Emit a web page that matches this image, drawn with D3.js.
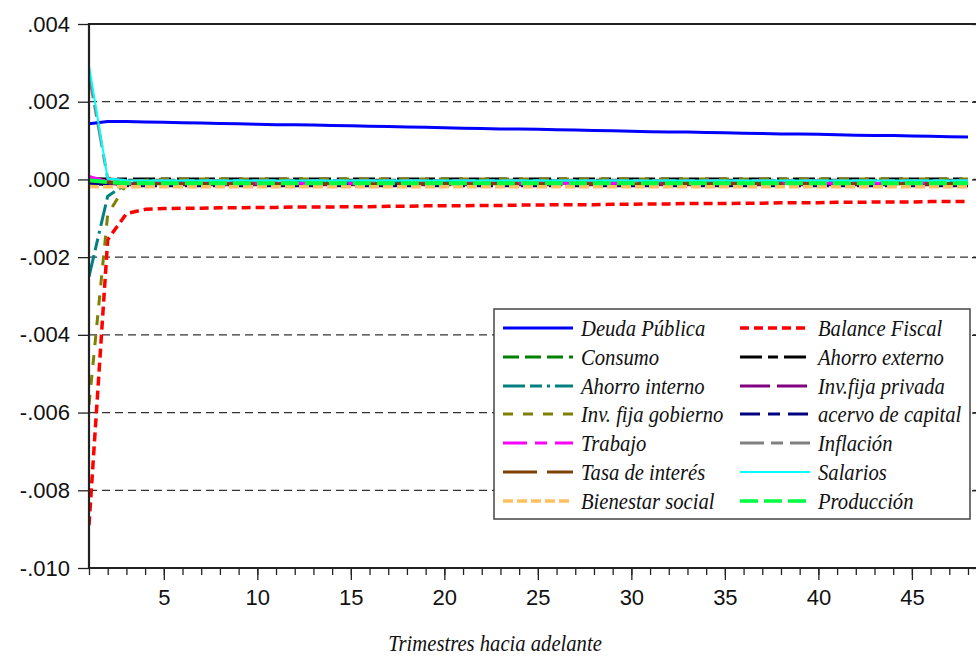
<!DOCTYPE html>
<html>
<head>
<meta charset="utf-8">
<script src="https://cdn.jsdelivr.net/npm/d3@7"></script>
<style>
  html, body { margin: 0; padding: 0; background: #fff; }
  svg { display: block; }
</style>
</head>
<body>
<svg id="chart" width="976" height="658"></svg>
<script>
// Quarters ahead
const periods = d3.range(1, 49);

// Impulse responses (deviations from steady state)
const deudaPublica = [0.00143,0.00149,0.00149,0.00148,0.00147,0.00146,0.00145,0.00144,0.00143,0.00142,0.00141,0.00141,0.00140,0.00139,0.00138,0.00137,0.00136,0.00135,0.00134,0.00133,0.00132,0.00131,0.00130,0.00130,0.00129,0.00128,0.00127,0.00126,0.00125,0.00124,0.00123,0.00122,0.00122,0.00121,0.00120,0.00119,0.00118,0.00117,0.00117,0.00116,0.00115,0.00114,0.00113,0.00113,0.00112,0.00111,0.00110,0.00109];
const balanceFiscal = [-0.00890,-0.00155,-0.00088,-0.00077,-0.00075,-0.00074,-0.00074,-0.00073,-0.00073,-0.00072,-0.00072,-0.00071,-0.00071,-0.00071,-0.00070,-0.00070,-0.00069,-0.00069,-0.00068,-0.00068,-0.00068,-0.00067,-0.00067,-0.00066,-0.00066,-0.00065,-0.00065,-0.00065,-0.00064,-0.00064,-0.00063,-0.00063,-0.00062,-0.00062,-0.00062,-0.00061,-0.00061,-0.00060,-0.00060,-0.00060,-0.00059,-0.00059,-0.00058,-0.00058,-0.00058,-0.00057,-0.00057,-0.00057];
const consumo = [-0.00003,-0.00008,-0.00010,-0.00010,-0.00010,-0.00010,-0.00010,-0.00010,-0.00010,-0.00010,-0.00010,-0.00010,-0.00010,-0.00010,-0.00010,-0.00010,-0.00010,-0.00010,-0.00010,-0.00010,-0.00010,-0.00010,-0.00010,-0.00010,-0.00010,-0.00010,-0.00010,-0.00010,-0.00010,-0.00010,-0.00010,-0.00010,-0.00010,-0.00010,-0.00010,-0.00010,-0.00010,-0.00010,-0.00010,-0.00010,-0.00010,-0.00010,-0.00010,-0.00010,-0.00010,-0.00010,-0.00010,-0.00010];
const ahorroExterno = [0.00002,0.00001,0.00001,0.00001,0.00001,0.00001,0.00001,0.00001,0.00001,0.00001,0.00001,0.00001,0.00001,0.00001,0.00001,0.00001,0.00001,0.00001,0.00001,0.00001,0.00001,0.00001,0.00001,0.00001,0.00001,0.00001,0.00001,0.00001,0.00001,0.00001,0.00001,0.00001,0.00001,0.00001,0.00001,0.00001,0.00001,0.00001,0.00001,0.00001,0.00001,0.00001,0.00001,0.00001,0.00001,0.00001,0.00001,0.00001];
const ahorroInterno = [-0.00250,-0.00043,-0.00012,-0.00008,-0.00008,-0.00008,-0.00008,-0.00008,-0.00008,-0.00008,-0.00008,-0.00008,-0.00008,-0.00008,-0.00008,-0.00008,-0.00008,-0.00008,-0.00008,-0.00008,-0.00008,-0.00008,-0.00008,-0.00008,-0.00008,-0.00008,-0.00008,-0.00008,-0.00008,-0.00008,-0.00008,-0.00008,-0.00008,-0.00008,-0.00008,-0.00008,-0.00008,-0.00008,-0.00008,-0.00008,-0.00008,-0.00008,-0.00008,-0.00008,-0.00008,-0.00008,-0.00008,-0.00008];
const invFijaPrivada = [0.00003,-0.00010,-0.00014,-0.00014,-0.00014,-0.00014,-0.00014,-0.00014,-0.00014,-0.00014,-0.00014,-0.00014,-0.00014,-0.00014,-0.00014,-0.00014,-0.00014,-0.00014,-0.00014,-0.00014,-0.00014,-0.00014,-0.00014,-0.00014,-0.00014,-0.00014,-0.00014,-0.00014,-0.00014,-0.00014,-0.00014,-0.00014,-0.00014,-0.00014,-0.00014,-0.00014,-0.00014,-0.00014,-0.00014,-0.00014,-0.00014,-0.00014,-0.00014,-0.00014,-0.00014,-0.00014,-0.00014,-0.00014];
const invFijaGobierno = [-0.00580,-0.00090,-0.00012,-0.00002,0.00001,0.00001,0.00001,0.00001,0.00001,0.00001,0.00001,0.00001,0.00001,0.00001,0.00001,0.00001,0.00001,0.00001,0.00001,0.00001,0.00001,0.00001,0.00001,0.00001,0.00001,0.00001,0.00001,0.00001,0.00001,0.00001,0.00001,0.00001,0.00001,0.00001,0.00001,0.00001,0.00001,0.00001,0.00001,0.00001,0.00001,0.00001,0.00001,0.00001,0.00001,0.00001,0.00001,0.00001];
const acervoCapital = [-0.00010,-0.00014,-0.00016,-0.00016,-0.00016,-0.00016,-0.00016,-0.00016,-0.00016,-0.00016,-0.00016,-0.00016,-0.00016,-0.00016,-0.00016,-0.00016,-0.00016,-0.00016,-0.00016,-0.00016,-0.00016,-0.00016,-0.00016,-0.00016,-0.00016,-0.00016,-0.00016,-0.00016,-0.00016,-0.00016,-0.00016,-0.00016,-0.00016,-0.00016,-0.00016,-0.00016,-0.00016,-0.00016,-0.00016,-0.00016,-0.00016,-0.00016,-0.00016,-0.00016,-0.00016,-0.00016,-0.00016,-0.00016];
const trabajo = [0.00008,-0.00006,-0.00010,-0.00010,-0.00010,-0.00010,-0.00010,-0.00010,-0.00010,-0.00010,-0.00010,-0.00010,-0.00010,-0.00010,-0.00010,-0.00010,-0.00010,-0.00010,-0.00010,-0.00010,-0.00010,-0.00010,-0.00010,-0.00010,-0.00010,-0.00010,-0.00010,-0.00010,-0.00010,-0.00010,-0.00010,-0.00010,-0.00010,-0.00010,-0.00010,-0.00010,-0.00010,-0.00010,-0.00010,-0.00010,-0.00010,-0.00010,-0.00010,-0.00010,-0.00010,-0.00010,-0.00010,-0.00010];
const inflacion = [0.00270,0.00002,-0.00003,-0.00003,-0.00003,-0.00003,-0.00003,-0.00003,-0.00003,-0.00003,-0.00003,-0.00003,-0.00003,-0.00003,-0.00003,-0.00003,-0.00003,-0.00003,-0.00003,-0.00003,-0.00003,-0.00003,-0.00003,-0.00003,-0.00003,-0.00003,-0.00003,-0.00003,-0.00003,-0.00003,-0.00003,-0.00003,-0.00003,-0.00003,-0.00003,-0.00003,-0.00003,-0.00003,-0.00003,-0.00003,-0.00003,-0.00003,-0.00003,-0.00003,-0.00003,-0.00003,-0.00003,-0.00003];
const tasaInteres = [-0.00004,-0.00007,-0.00011,-0.00011,-0.00011,-0.00011,-0.00011,-0.00011,-0.00011,-0.00011,-0.00011,-0.00011,-0.00011,-0.00011,-0.00011,-0.00011,-0.00011,-0.00011,-0.00011,-0.00011,-0.00011,-0.00011,-0.00011,-0.00011,-0.00011,-0.00011,-0.00011,-0.00011,-0.00011,-0.00011,-0.00011,-0.00011,-0.00011,-0.00011,-0.00011,-0.00011,-0.00011,-0.00011,-0.00011,-0.00011,-0.00011,-0.00011,-0.00011,-0.00011,-0.00011,-0.00011,-0.00011,-0.00011];
const salarios = [0.00293,0.00002,-0.00002,-0.00003,-0.00003,-0.00003,-0.00003,-0.00003,-0.00003,-0.00003,-0.00003,-0.00003,-0.00003,-0.00003,-0.00003,-0.00003,-0.00003,-0.00003,-0.00003,-0.00003,-0.00003,-0.00003,-0.00003,-0.00003,-0.00003,-0.00003,-0.00003,-0.00003,-0.00003,-0.00003,-0.00003,-0.00003,-0.00003,-0.00003,-0.00003,-0.00003,-0.00003,-0.00003,-0.00003,-0.00003,-0.00003,-0.00003,-0.00003,-0.00003,-0.00003,-0.00003,-0.00003,-0.00003];
const bienestarSocial = [-0.00018,-0.00019,-0.00019,-0.00019,-0.00019,-0.00019,-0.00019,-0.00019,-0.00019,-0.00019,-0.00019,-0.00019,-0.00019,-0.00019,-0.00019,-0.00019,-0.00019,-0.00019,-0.00019,-0.00019,-0.00019,-0.00019,-0.00019,-0.00019,-0.00019,-0.00019,-0.00019,-0.00019,-0.00019,-0.00019,-0.00019,-0.00019,-0.00019,-0.00019,-0.00019,-0.00019,-0.00019,-0.00019,-0.00019,-0.00019,-0.00019,-0.00019,-0.00019,-0.00019,-0.00019,-0.00019,-0.00019,-0.00019];
const produccion = [-0.00002,-0.00007,-0.00010,-0.00010,-0.00010,-0.00010,-0.00010,-0.00010,-0.00010,-0.00010,-0.00010,-0.00010,-0.00010,-0.00010,-0.00010,-0.00010,-0.00010,-0.00010,-0.00010,-0.00010,-0.00010,-0.00010,-0.00010,-0.00010,-0.00010,-0.00010,-0.00010,-0.00010,-0.00010,-0.00010,-0.00010,-0.00010,-0.00010,-0.00010,-0.00010,-0.00010,-0.00010,-0.00010,-0.00010,-0.00010,-0.00010,-0.00010,-0.00010,-0.00010,-0.00010,-0.00010,-0.00010,-0.00010];

const seriesNames = ["Deuda Pública","Balance Fiscal","Consumo","Ahorro externo","Ahorro interno","Inv.fija privada","Inv. fija gobierno","acervo de capital","Trabajo","Inflación","Tasa de interés","Salarios","Bienestar social","Producción"];
const seriesValues = [deudaPublica, balanceFiscal, consumo, ahorroExterno, ahorroInterno, invFijaPrivada, invFijaGobierno, acervoCapital, trabajo, inflacion, tasaInteres, salarios, bienestarSocial, produccion];

const yTicks = [-0.010,-0.008,-0.006,-0.004,-0.002,0.000,0.002,0.004];
const xMajorTicks = [5,10,15,20,25,30,35,40,45];
const xTitle = "Trimestres hacia adelante";

// Line styles per series, same order as seriesNames
const styles = [
  {color:"#0000ff", width:3,   dash:null},
  {color:"#ff0000", width:3.5, dash:"9,5"},
  {color:"#008000", width:3,   dash:"16,6"},
  {color:"#000000", width:3,   dash:"22,6,10,6"},
  {color:"#008080", width:3,   dash:"22,5,12,5,3,5"},
  {color:"#800080", width:3,   dash:"30,7"},
  {color:"#808000", width:3,   dash:"10,10"},
  {color:"#000080", width:3,   dash:"20,8,12,8"},
  {color:"#ff00ff", width:3,   dash:"24,8,12,8"},
  {color:"#808080", width:3,   dash:"24,7,12,7"},
  {color:"#804000", width:3,   dash:"34,10"},
  {color:"#00ffff", width:2,   dash:null},
  {color:"#ffc060", width:3.5, dash:"10,4"},
  {color:"#00ff40", width:4,   dash:"18,6"}
];

const svg = d3.select("#chart");
const x = d3.scaleLinear().domain([1, 48]).range([89, 968]);
const y = d3.scaleLinear().domain([-0.010, 0.004]).range([568, 24]);
const xRight = 977;

const fmt = v => {
  const s = d3.format(".3f")(Math.abs(v)).replace(/^0/, "");
  return (v < -1e-12 ? "-" : "") + s;
};

// Horizontal dashed grid lines
svg.append("g")
  .selectAll("line")
  .data(yTicks.filter(v => v > -0.0099 && v < 0.0039))
  .join("line")
  .attr("x1", x(1)).attr("x2", xRight)
  .attr("y1", d => y(d)).attr("y2", d => y(d))
  .attr("stroke", "#333")
  .attr("stroke-width", 1.3)
  .attr("stroke-dasharray", "8,5");

// Series lines
svg.append("clipPath").attr("id", "plotClip")
  .append("rect").attr("x", x(1)).attr("y", y(0.004)).attr("width", xRight - x(1)).attr("height", y(-0.010) - y(0.004));

const line = d3.line().x((d, i) => x(periods[i])).y(d => y(d));
svg.append("g").attr("clip-path", "url(#plotClip)")
  .selectAll("path")
  .data(seriesValues)
  .join("path")
  .attr("d", d => line(d))
  .attr("fill", "none")
  .attr("stroke", (d, i) => styles[i].color)
  .attr("stroke-width", (d, i) => styles[i].width)
  .attr("stroke-dasharray", (d, i) => styles[i].dash)
  .attr("stroke-linejoin", "round");

// Axes
const axisColor = "#222";
const yAxis = svg.append("g").attr("transform", `translate(${x(1)},0)`)
  .call(d3.axisLeft(y).tickValues(yTicks).tickFormat(fmt).tickSize(11).tickPadding(8));
const yAxisR = svg.append("g").attr("transform", `translate(${xRight},0)`)
  .call(d3.axisLeft(y).tickValues(yTicks).tickFormat("").tickSize(5));
const xMinor = svg.append("g").attr("transform", `translate(0,${y(-0.010)})`)
  .call(d3.axisBottom(x).tickValues(periods).tickFormat("").tickSize(7));
const xAxis = svg.append("g").attr("transform", `translate(0,${y(-0.010)})`)
  .call(d3.axisBottom(x).tickValues(xMajorTicks).tickFormat(d3.format("d")).tickSize(12).tickPadding(9));

[yAxis, yAxisR, xMinor, xAxis].forEach(g => {
  g.select(".domain").remove();
  g.selectAll(".tick line").attr("stroke", axisColor).attr("stroke-width", 1.3);
  g.selectAll("text")
    .attr("fill", "#111")
    .style("font-family", "'Liberation Sans', Arial, sans-serif")
    .style("font-size", "22px");
});

// Frame: left, top and bottom edges
svg.append("path")
  .attr("d", `M${xRight},${y(0.004)}H${x(1)}V${y(-0.010)}H${xRight}`)
  .attr("fill", "none")
  .attr("stroke", axisColor)
  .attr("stroke-width", 2.2);

// Condensed italic serif used for the legend and the axis title
const serifText = sel => sel
  .style("font-family", "'Liberation Serif', 'Times New Roman', serif")
  .style("font-style", "italic")
  .style("font-size", "24px")
  .attr("fill", "#111");

// Axis title
svg.append("text")
  .attr("transform", "translate(495,651) scale(0.86,1)")
  .attr("text-anchor", "middle")
  .call(serifText)
  .text(xTitle);

// Legend
const lg = svg.append("g");
lg.append("rect")
  .attr("x", 494).attr("y", 309).attr("width", 476).attr("height", 210)
  .attr("fill", "#fff").attr("stroke", "#444").attr("stroke-width", 1.5);

const rowY = [328, 357, 386, 414, 443, 472, 501];
const colSample = [[503, 573], [740, 810]];
const colText = [581, 818];

const items = lg.selectAll("g.item")
  .data(seriesNames.map((n, i) => ({name: n, i})))
  .join("g").attr("class", "item");

items.append("line")
  .attr("x1", d => colSample[d.i % 2][0]).attr("x2", d => colSample[d.i % 2][1])
  .attr("y1", d => rowY[Math.floor(d.i / 2)]).attr("y2", d => rowY[Math.floor(d.i / 2)])
  .attr("stroke", d => styles[d.i].color)
  .attr("stroke-width", d => Math.min(styles[d.i].width, 3.5))
  .attr("stroke-dasharray", d => styles[d.i].dash);

items.append("text")
  .attr("transform", d => `translate(${colText[d.i % 2]},${rowY[Math.floor(d.i / 2)]}) scale(0.86,1)`)
  .attr("dy", "0.33em")
  .call(serifText)
  .text(d => d.name);
</script>
</body>
</html>
